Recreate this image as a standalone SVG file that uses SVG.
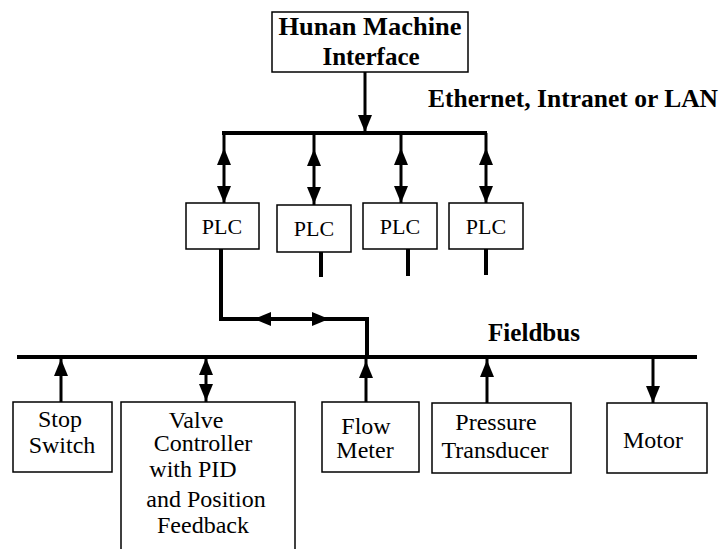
<svg xmlns="http://www.w3.org/2000/svg" width="722" height="549" viewBox="0 0 722 549">
  <style>
    .box { fill: #fff; stroke: #000; stroke-width: 1.5; }
    .bus { stroke: #000; stroke-width: 4; fill: none; }
    .wire { stroke: #000; stroke-width: 3; fill: none; }
    .bold { font-family: "Liberation Serif", "DejaVu Serif", serif; font-weight: 700; font-size: 25px; fill: #000; }
    .lbl, .plc { font-family: "Liberation Serif", "Times New Roman", Times, Tinos, "Nimbus Roman", "Nimbus Roman No9 L", FreeSerif, "Noto Serif", "DejaVu Serif", serif; font-weight: 400; font-style: normal; fill: #000; text-anchor: middle; }
    .lbl { font-size: 24px; }
    .plc { font-size: 22px; }
  </style>
  <defs>
    <!-- arrowhead pointing down, tip at origin -->
    <path id="ah" d="M0,0 L-7,-17 L7,-17 Z" fill="#000"/>
  </defs>

  <rect width="722" height="549" fill="#fff"/>

  <g id="connectors">
    <!-- HMI to Ethernet bus -->
    <line class="wire" x1="365" y1="72" x2="365" y2="133"/>
    <use href="#ah" transform="translate(365,132)"/>
    <!-- Ethernet bus -->
    <line class="bus" x1="222" y1="133" x2="487" y2="133"/>
    <!-- bus to PLCs -->
    <line class="wire" x1="224" y1="133" x2="224" y2="203"/>
    <use href="#ah" transform="translate(224,148) rotate(180)"/>
    <use href="#ah" transform="translate(224,203)"/>
    <line class="wire" x1="314" y1="133" x2="314" y2="205"/>
    <use href="#ah" transform="translate(314,149) rotate(180)"/>
    <use href="#ah" transform="translate(314,204)"/>
    <line class="wire" x1="401" y1="133" x2="401" y2="203"/>
    <use href="#ah" transform="translate(401,148) rotate(180)"/>
    <use href="#ah" transform="translate(401,203)"/>
    <line class="wire" x1="486" y1="133" x2="486" y2="203"/>
    <use href="#ah" transform="translate(486,148) rotate(180)"/>
    <use href="#ah" transform="translate(486,203)"/>
    <!-- PLC stubs -->
    <line class="bus" x1="321" y1="252" x2="321" y2="277"/>
    <line class="bus" x1="408" y1="249" x2="408" y2="276"/>
    <line class="bus" x1="486" y1="249" x2="486" y2="275"/>
    <!-- PLC to fieldbus -->
    <polyline class="bus" points="221,249 221,319 367,319 367,357"/>
    <use href="#ah" transform="translate(254,319) rotate(90)"/>
    <use href="#ah" transform="translate(329,319) rotate(-90)"/>
    <!-- Fieldbus -->
    <line class="bus" x1="17" y1="357" x2="697" y2="357"/>
    <!-- devices -->
    <line class="wire" x1="61" y1="357" x2="61" y2="402"/>
    <use href="#ah" transform="translate(61,359) rotate(180)"/>
    <line class="wire" x1="206" y1="357" x2="206" y2="402"/>
    <use href="#ah" transform="translate(206,358) rotate(180)"/>
    <use href="#ah" transform="translate(206,401)"/>
    <line class="wire" x1="366" y1="357" x2="366" y2="402"/>
    <use href="#ah" transform="translate(366,361) rotate(180)"/>
    <line class="wire" x1="487" y1="357" x2="487" y2="403"/>
    <use href="#ah" transform="translate(487,360) rotate(180)"/>
    <line class="wire" x1="653" y1="357" x2="653" y2="403"/>
    <use href="#ah" transform="translate(653,403)"/>
  </g>

  <g id="hmi">
    <rect class="box" x="272" y="12" width="196" height="60"/>
    <text class="bold" x="370" y="35" text-anchor="middle" textLength="183" lengthAdjust="spacingAndGlyphs">Hunan Machine</text>
    <text class="bold" x="371" y="65" text-anchor="middle">Interface</text>
  </g>

  <g id="ethernet-label">
    <text class="bold" x="428" y="107" textLength="290" lengthAdjust="spacingAndGlyphs">Ethernet, Intranet or LAN</text>
  </g>

  <g id="plc1">
    <rect class="box" x="186" y="203" width="73" height="46"/>
    <text class="plc" x="222" y="234">PLC</text>
  </g>
  <g id="plc2">
    <rect class="box" x="277" y="205" width="74" height="47"/>
    <text class="plc" x="314" y="236">PLC</text>
  </g>
  <g id="plc3">
    <rect class="box" x="363" y="203" width="74" height="46"/>
    <text class="plc" x="400" y="234">PLC</text>
  </g>
  <g id="plc4">
    <rect class="box" x="449" y="203" width="74" height="46"/>
    <text class="plc" x="486" y="234">PLC</text>
  </g>

  <g id="fieldbus-label">
    <text class="bold" x="488" y="341" textLength="92" lengthAdjust="spacingAndGlyphs">Fieldbus</text>
  </g>

  <g id="stop-switch">
    <rect class="box" x="13" y="402" width="99" height="70"/>
    <text class="lbl" x="60" y="427">Stop</text>
    <text class="lbl" x="62" y="453">Switch</text>
  </g>
  <g id="valve-controller">
    <rect class="box" x="121" y="402" width="174" height="160"/>
    <text class="lbl" x="196" y="428">Valve</text>
    <text class="lbl" x="203" y="451">Controller</text>
    <text class="lbl" x="193" y="477">with PID</text>
    <text class="lbl" x="206" y="507">and Position</text>
    <text class="lbl" x="203" y="533">Feedback</text>
  </g>
  <g id="flow-meter">
    <rect class="box" x="322" y="402" width="97" height="70"/>
    <text class="lbl" x="366" y="434">Flow</text>
    <text class="lbl" x="365" y="458">Meter</text>
  </g>
  <g id="pressure-transducer">
    <rect class="box" x="432" y="403" width="139" height="70"/>
    <text class="lbl" x="496" y="430">Pressure</text>
    <text class="lbl" x="495" y="458">Transducer</text>
  </g>
  <g id="motor">
    <rect class="box" x="607" y="403" width="100" height="70"/>
    <text class="lbl" x="653" y="448">Motor</text>
  </g>
</svg>
